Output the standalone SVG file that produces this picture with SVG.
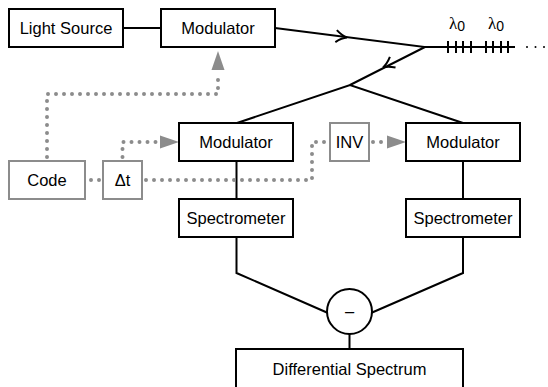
<svg xmlns="http://www.w3.org/2000/svg" width="548" height="387" viewBox="0 0 548 387">
<defs>
<style>
.box{fill:#fff;stroke:#000;stroke-width:2}
.gbox{fill:#fff;stroke:#8c8c8c;stroke-width:2}
.ln{fill:none;stroke:#000;stroke-width:2}
.dot{fill:none;stroke:#8c8c8c;stroke-width:4;stroke-linecap:round;stroke-dasharray:0 8}
.t{font-family:"Liberation Sans",Arial,sans-serif;font-size:16.5px;fill:#000;text-anchor:middle}
.ah{fill:none;stroke:#000;stroke-width:2;stroke-linejoin:miter}
.gah{fill:#8c8c8c;stroke:none}
</style>
</defs>
<g id="connectors">
<line class="ln" x1="123" y1="28" x2="161" y2="28"/>
<polyline class="ln" points="275,28 425,47 350,85"/>
<line class="ln" x1="425" y1="47" x2="515" y2="47"/>
<g class="ln">
<line x1="448" y1="41" x2="448" y2="53"/><line x1="456" y1="41" x2="456" y2="53"/><line x1="463" y1="41" x2="463" y2="53"/><line x1="471" y1="41" x2="471" y2="53"/>
<line x1="486" y1="41" x2="486" y2="53"/><line x1="493" y1="41" x2="493" y2="53"/><line x1="501" y1="41" x2="501" y2="53"/><line x1="508" y1="41" x2="508" y2="53"/>
</g>
<path class="ah" d="M-11,-6 Q-5,-1 0,0 Q-5,1 -11,6" transform="translate(347,37.5) rotate(7.2)"/>
<path class="ah" d="M-11,-6 Q-5,-1 0,0 Q-5,1 -11,6" transform="translate(383,67.4) rotate(152)"/>
<polyline class="ln" points="237,123 350,85 463,123"/>
<line class="ln" x1="236.5" y1="161" x2="236.5" y2="199"/>
<line class="ln" x1="463" y1="161" x2="463" y2="199"/>
<polyline class="ln" points="236.5,237 236.5,273 328,313"/>
<polyline class="ln" points="463,237 463,273 371,313"/>
<line class="ln" x1="349.5" y1="334" x2="349.5" y2="349"/>
<polyline class="dot" points="47,157 47,94 218,94 218,74"/>
<polygon class="gah" points="218,51 211.5,70 224.5,70"/>
<line class="dot" x1="91" y1="180" x2="101" y2="180"/>
<polyline class="dot" points="122.5,157 122.5,142 158,142"/>
<polygon class="gah" points="179,142 160,135.5 160,148.5"/>
<polyline class="dot" points="146,180 312,180 312,142 326,142"/>
<line class="dot" x1="373" y1="142" x2="383" y2="142"/>
<polygon class="gah" points="406,142 387,135.5 387,148.5"/>
</g>
<g id="light-source"><rect class="box" x="9" y="9" width="114" height="38"/><text class="t" x="66" y="34">Light Source</text></g>
<g id="modulator-top"><rect class="box" x="161" y="9" width="114" height="38"/><text class="t" x="218" y="34">Modulator</text></g>
<g id="lambda-labels">
<text x="457" y="29" style="font-family:'Liberation Serif',serif;font-size:17px;text-anchor:middle">λ<tspan style="font-family:'Liberation Sans',sans-serif;font-size:14px" dy="2">0</tspan></text>
<text x="496" y="29" style="font-family:'Liberation Serif',serif;font-size:17px;text-anchor:middle">λ<tspan style="font-family:'Liberation Sans',sans-serif;font-size:14px" dy="2">0</tspan></text>
<g fill="#000"><circle cx="527" cy="47" r="1"/><circle cx="535.5" cy="47" r="1"/><circle cx="544" cy="47" r="1"/></g>
</g>
<g id="code"><rect class="gbox" x="9" y="161" width="76" height="38"/><text class="t" x="47" y="186">Code</text></g>
<g id="delay"><rect class="gbox" x="103" y="161" width="39" height="38"/><text class="t" x="122.5" y="186">Δt</text></g>
<g id="inv"><rect class="gbox" x="330" y="123" width="39" height="38"/><text class="t" x="349.5" y="148">INV</text></g>
<g id="modulator-left"><rect class="box" x="179" y="123" width="114" height="38"/><text class="t" x="236" y="148">Modulator</text></g>
<g id="modulator-right"><rect class="box" x="406" y="123" width="114" height="38"/><text class="t" x="463" y="148">Modulator</text></g>
<g id="spectrometer-left"><rect class="box" x="179" y="199" width="114" height="38"/><text class="t" x="236" y="224">Spectrometer</text></g>
<g id="spectrometer-right"><rect class="box" x="406" y="199" width="114" height="38"/><text class="t" x="463" y="224">Spectrometer</text></g>
<g id="subtract"><circle cx="349.5" cy="311.5" r="22.5" fill="#fff" stroke="#000" stroke-width="2"/><text class="t" x="349.5" y="317">–</text></g>
<g id="differential-spectrum"><rect class="box" x="236" y="349" width="227" height="60"/><text class="t" x="349.5" y="375">Differential Spectrum</text></g>
</svg>
